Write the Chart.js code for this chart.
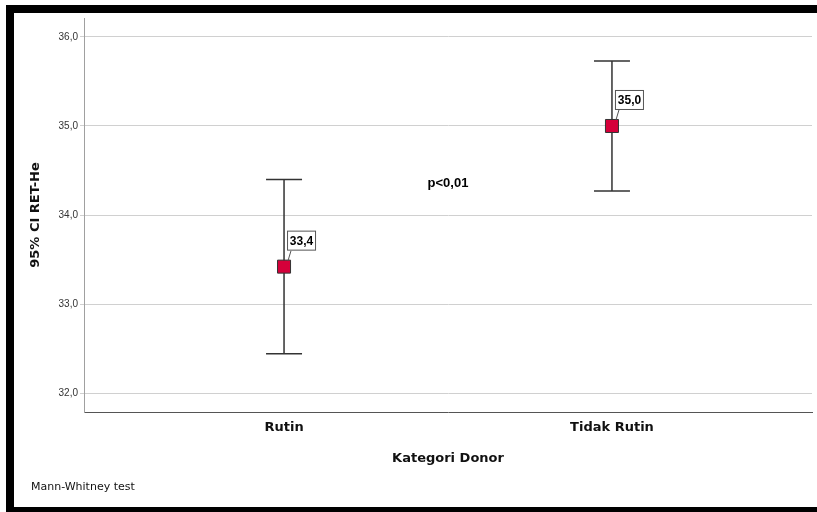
<!DOCTYPE html>
<html>
<head>
<meta charset="utf-8">
<script src="https://cdn.jsdelivr.net/npm/chart.js@4"></script>
<style>
  html, body { margin: 0; padding: 0; background: #fff; }
  #wrap { width: 817px; height: 512px; }
</style>
</head>
<body>
<div id="wrap"><canvas id="ciChart" width="817" height="512"></canvas></div>
<script>
// Données
const categories = ["Rutin", "Tidak Rutin"];
const means = [33.42, 35.0];
const ciLower = [32.44, 34.27];
const ciUpper = [34.4, 35.73];
const meanLabels = ["33,4", "35,0"];
const yTicks = [32, 33, 34, 35, 36];
const pText = "p<0,01";
const footnote = "Mann-Whitney test";

// Fond blanc + cadre noir
const framePlugin = {
  id: "frame",
  beforeDraw: (chart) => {
    const { ctx, width, height } = chart;
    ctx.save();
    ctx.fillStyle = "#fff";
    ctx.fillRect(0, 0, width, height);
    ctx.fillStyle = "#000";
    ctx.fillRect(6, 5, width - 6, 8);
    ctx.fillRect(6, 5, 8, height - 5);
    ctx.fillRect(6, 507, width - 6, 5);
    ctx.restore();
  },
};

// Barres d'erreur (IC 95%)
const errorBarPlugin = {
  id: "errorBars",
  beforeDatasetsDraw: (chart) => {
    const { ctx, scales: { x, y } } = chart;
    ctx.save();
    ctx.strokeStyle = "#333";
    ctx.lineWidth = 1.5;
    means.forEach((m, i) => {
      const px = x.getPixelForValue(i + 1);
      const top = y.getPixelForValue(ciUpper[i]);
      const bot = y.getPixelForValue(ciLower[i]);
      ctx.beginPath();
      ctx.moveTo(px, top);
      ctx.lineTo(px, bot);
      ctx.moveTo(px - 18, top);
      ctx.lineTo(px + 18, top);
      ctx.moveTo(px - 18, bot);
      ctx.lineTo(px + 18, bot);
      ctx.stroke();
    });
    ctx.restore();
  },
  afterDatasetsDraw: (chart) => {
    const { ctx, scales: { x, y } } = chart;
    ctx.save();
    means.forEach((m, i) => {
      const px = x.getPixelForValue(i + 1);
      const py = y.getPixelForValue(m);
      const bx = px + 3, by = py - 36, bw = 29, bh = 20;
      ctx.strokeStyle = "#555";
      ctx.lineWidth = 1;
      ctx.beginPath();
      ctx.moveTo(px + 7, by + bh);
      ctx.lineTo(px + 4, py - 6);
      ctx.stroke();
      ctx.fillStyle = "#fff";
      ctx.fillRect(bx, by, bw, bh);
      ctx.strokeRect(bx + 0.5, by + 0.5, bw - 1, bh - 1);
      ctx.fillStyle = "#000";
      ctx.font = "bold 12px 'Liberation Sans', Arial";
      ctx.textAlign = "center";
      ctx.textBaseline = "middle";
      ctx.fillText(meanLabels[i], bx + bw / 2, by + bh / 2 + 1);
    });
    // annotation p
    ctx.font = "bold 13px 'Liberation Sans', Arial";
    ctx.fillStyle = "#000";
    ctx.textAlign = "center";
    ctx.textBaseline = "middle";
    ctx.fillText(pText, x.getPixelForValue(1.5), y.getPixelForValue(34.36));
    // note en bas
    ctx.font = "11px 'DejaVu Sans'";
    ctx.fillStyle = "#111";
    ctx.textAlign = "left";
    ctx.fillText(footnote, 31, 487);
    ctx.restore();
  },
};

const ctx = document.getElementById("ciChart").getContext("2d");
const ciChart = new Chart(ctx, {
  type: "scatter",
  data: {
    datasets: [
      {
        label: "Mean",
        data: means.map((m, i) => ({ x: i + 1, y: m })),
        pointStyle: "rect",
        pointRadius: 9.2,
        pointHoverRadius: 9.2,
        backgroundColor: "#D5003A",
        borderColor: "#333",
        borderWidth: 1,
      },
    ],
  },
  options: {
    responsive: false,
    animation: false,
    events: [],
    layout: {
      autoPadding: false,
      padding: { top: 18, right: 5, bottom: 42, left: 24 },
    },
    plugins: {
      legend: { display: false },
      tooltip: { enabled: false },
    },
    scales: {
      x: {
        type: "linear",
        min: 0.39,
        max: 2.61,
        afterBuildTicks: (scale) => {
          scale.ticks = categories.map((c, i) => ({ value: i + 1 }));
        },
        afterFit: (scale) => { scale.height = 58; },
        grid: { display: false, drawTicks: false },
        border: { display: true, color: "#555", width: 1 },
        ticks: {
          padding: 8,
          color: "#111",
          font: { family: "DejaVu Sans", size: 13, weight: "bold" },
          callback: (v) => categories[v - 1] || "",
        },
        title: {
          display: true,
          text: "Kategori Donor",
          color: "#111",
          font: { family: "DejaVu Sans", size: 13, weight: "bold" },
        },
      },
      y: {
        min: 31.787,
        max: 36.213,
        afterBuildTicks: (scale) => {
          scale.ticks = yTicks.map((v) => ({ value: v }));
        },
        afterFit: (scale) => { scale.width = 60; },
        grid: { color: "#d0d0d0", lineWidth: 1, tickLength: 4 },
        border: { display: true, color: "#a0a0a0", width: 1 },
        ticks: {
          padding: 2,
          color: "#333",
          font: { family: "Liberation Sans", size: 10 },
          callback: (v) => v.toFixed(1).replace(".", ","),
        },
        title: {
          display: true,
          text: "95% CI RET-He",
          color: "#111",
          font: { family: "DejaVu Sans", size: 13, weight: "bold" },
        },
      },
    },
  },
  plugins: [framePlugin, errorBarPlugin],
});
</script>
</body>
</html>
